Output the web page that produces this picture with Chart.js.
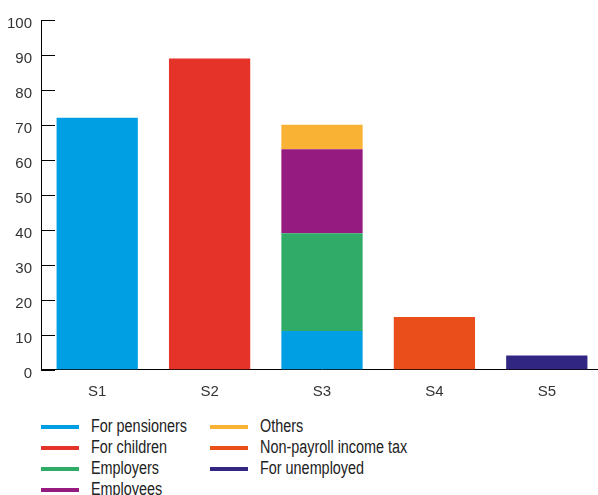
<!DOCTYPE html>
<html>
<head>
<meta charset="utf-8">
<script src="https://cdn.jsdelivr.net/npm/chart.js@4/dist/chart.umd.min.js"></script>
<style>
  html, body { margin: 0; padding: 0; background: #fff; overflow: hidden; }
  #wrap { position: relative; width: 603px; height: 410px; }
  #legend {
    position: absolute; left: 41px; top: 416px;
    display: grid; grid-auto-flow: column;
    grid-template-rows: repeat(4, 21px);
    grid-template-columns: 169px 300px;
    font-family: "Liberation Sans", Arial, sans-serif;
    font-size: 18px; color: #222;
  }
  .item { display: flex; align-items: center; white-space: nowrap; }
  .swatch { width: 38px; height: 4px; margin-right: 12px; flex: none; }
  .name { display: inline-block; transform: scaleX(0.8); transform-origin: left center; }
</style>
</head>
<body>
<div id="wrap"><canvas id="chart" width="603" height="410"></canvas></div>
<div id="legend"></div>
<script>
// categories and series
const categories = ["S1", "S2", "S3", "S4", "S5"];
const seriesNames = ["For pensioners", "For children", "Employers", "Employees", "Others", "Non-payroll income tax", "For unemployed"];
const forPensioners = [72, null, 11, null, null];
const forChildren   = [null, 89, null, null, null];
const employers     = [null, null, 28, null, null];
const employees     = [null, null, 24, null, null];
const others        = [null, null, 7, null, null];
const nonPayroll    = [null, null, null, 15, null];
const forUnemployed = [null, null, null, null, 4];
const yTicks = [0, 10, 20, 30, 40, 50, 60, 70, 80, 90, 100];

const colors = ["#009fe3", "#e6332a", "#31ab68", "#951b81", "#f9b233", "#e94e1b", "#312783"];
const values = [forPensioners, forChildren, employers, employees, others, nonPayroll, forUnemployed];

const font = { family: '"Liberation Sans", Arial, sans-serif', size: 15 };

// short tick marks pointing into the plot
const innerTicks = {
  id: "innerTicks",
  afterDraw(chart) {
    const y = chart.scales.y;
    const ctx = chart.ctx;
    ctx.save();
    ctx.strokeStyle = "#000";
    ctx.lineWidth = 1;
    yTicks.forEach(v => {
      const py = Math.round(y.getPixelForValue(v)) + 0.5;
      ctx.beginPath();
      ctx.moveTo(y.right, py);
      ctx.lineTo(y.right + 14, py);
      ctx.stroke();
    });
    ctx.restore();
  }
};

const chart = new Chart(document.getElementById("chart"), {
  type: "bar",
  data: {
    labels: categories,
    datasets: seriesNames.map((name, i) => ({
      label: name,
      data: values[i],
      backgroundColor: colors[i],
      borderWidth: 0,
      barPercentage: 0.723,
      categoryPercentage: 1
    }))
  },
  options: {
    responsive: false,
    animation: false,
    devicePixelRatio: 1,
    layout: { padding: { top: 20, right: 0, left: 0, bottom: 0 } },
    plugins: { legend: { display: false }, tooltip: { enabled: false } },
    scales: {
      x: {
        stacked: true,
        grid: { display: false, drawTicks: false },
        border: { color: "#000", width: 1 },
        ticks: { font, color: "#333", padding: 13 },
        afterFit(s) { s.height = 40.5; }
      },
      y: {
        stacked: true,
        min: 0,
        max: 100,
        grid: { display: false, drawTicks: false },
        border: { color: "#000", width: 1 },
        ticks: { stepSize: 10, font, color: "#333", padding: 9, labelOffset: 4 },
        afterFit(s) { s.width = 41; }
      }
    }
  },
  plugins: [innerTicks]
});

// legend laid out in columns, four rows each
document.getElementById("legend").innerHTML = seriesNames.map((name, i) => `
  <div class="item"><span class="swatch" style="background:${colors[i]}"></span><span class="name">${name}</span></div>`).join("");
</script>
</body>
</html>
